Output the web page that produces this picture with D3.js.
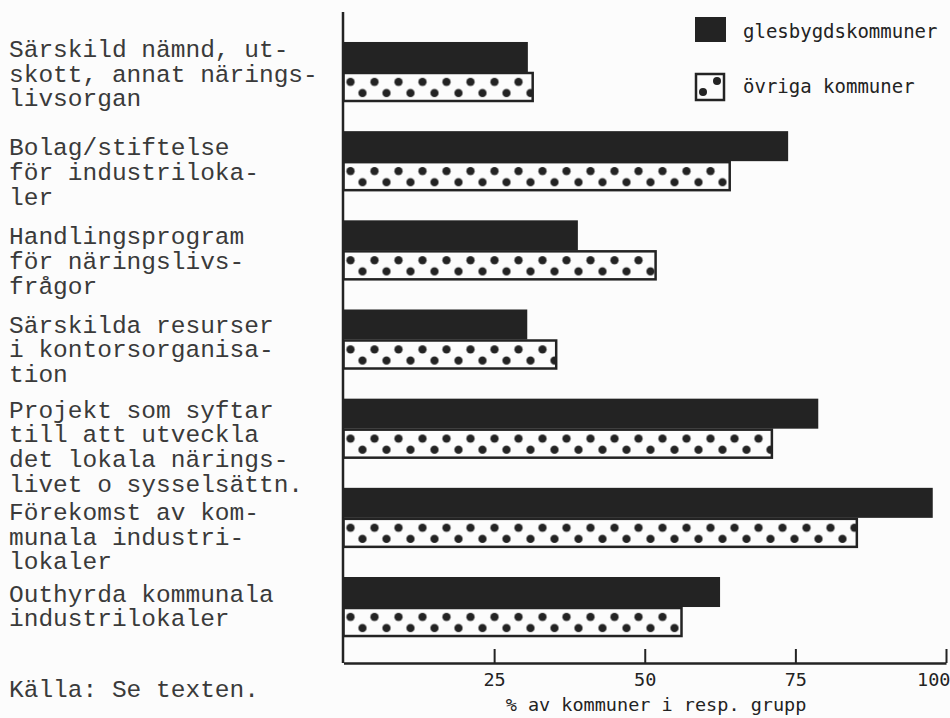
<!DOCTYPE html>
<html>
<head>
<meta charset="utf-8">
<script src="https://cdn.jsdelivr.net/npm/d3@7"></script>
<style>
  html, body { margin: 0; padding: 0; background: #fcfcfc; }
  svg { display: block; }
</style>
</head>
<body>
<svg id="chart" width="950" height="718"></svg>
<script>
// ---- data ----
const categories = [
  "Särskild nämnd, ut-\nskott, annat närings-\nlivsorgan",
  "Bolag/stiftelse\nför industriloka-\nler",
  "Handlingsprogram\nför näringslivs-\nfrågor",
  "Särskilda resurser\ni kontorsorganisa-\ntion",
  "Projekt som syftar\ntill att utveckla\ndet lokala närings-\nlivet o sysselsättn.",
  "Förekomst av kom-\nmunala industri-\nlokaler",
  "Outhyrda kommunala\nindustrilokaler"
];
const seriesNames = ["glesbygdskommuner", "övriga kommuner"];
const glesbygd = [30.6, 73.8, 38.9, 30.5, 78.8, 97.8, 62.5];
const ovriga   = [31.6, 64.3, 52.0, 35.5, 71.3, 85.4, 56.3];
const xTicks = [25, 50, 75, 100];
const axisTitle = "% av kommuner i resp. grupp";
const sourceNote = "Källa: Se texten.";

// ---- layout ----
const svg = d3.select("#chart");
const INK = "#232323";
const TYPE = "'Courier New', Courier, 'Nimbus Mono PS', 'Nimbus Mono L', FreeMono, 'Liberation Mono', monospace";
const SANS = "'DejaVu Sans Mono', monospace";
const labelNudge = [2.7, 11.7, 11.7, 10.7, 19, 19.7, 0];
const lineH = 24.7;
const axisY = 663;

const x = d3.scaleLinear().domain([0, 100]).range([343.5, 946]);
const y = d3.scaleBand().domain(categories).range([27.4, 651.6])
  .paddingInner(0.327).paddingOuter(0.1635);
const ySub = d3.scaleBand().domain(seriesNames).range([0, y.bandwidth()]);

const rows = categories.map((c, i) => ({cat: c, i, vals: [glesbygd[i], ovriga[i]]}));

// patterns for dotted bars
const defs = svg.append("defs");
rows.forEach(r => {
  const p = defs.append("pattern")
    .attr("id", "dots" + r.i)
    .attr("patternUnits", "userSpaceOnUse")
    .attr("x", x(0))
    .attr("y", y(r.cat) + ySub(seriesNames[1]))
    .attr("width", 24)
    .attr("height", ySub.bandwidth());
  p.append("rect").attr("width", 24).attr("height", ySub.bandwidth()).attr("fill", "#fcfcfc");
  p.append("circle").attr("cx", 7).attr("cy", 10).attr("r", 4.1).attr("fill", INK);
  p.append("circle").attr("cx", 19).attr("cy", 21).attr("r", 4.1).attr("fill", INK);
});

// bars
const g = svg.append("g");
rows.forEach(r => {
  g.append("rect")
    .attr("x", x(0))
    .attr("y", y(r.cat) + ySub(seriesNames[0]))
    .attr("width", x(r.vals[0]) - x(0))
    .attr("height", ySub.bandwidth())
    .attr("fill", INK);
  g.append("rect")
    .attr("x", x(0))
    .attr("y", y(r.cat) + ySub(seriesNames[1]) + 1)
    .attr("width", x(r.vals[1]) - x(0) - 1.2)
    .attr("height", ySub.bandwidth() - 2)
    .attr("fill", "url(#dots" + r.i + ")")
    .attr("stroke", INK)
    .attr("stroke-width", 2.5);
});

// y axis line
svg.append("line")
  .attr("x1", x(0) - 0.5).attr("x2", x(0) - 0.5)
  .attr("y1", 12).attr("y2", axisY)
  .attr("stroke", INK).attr("stroke-width", 2.5);

// x axis
const xAxis = d3.axisBottom(x).tickValues(xTicks).tickSizeInner(-14).tickSizeOuter(0).tickPadding(23);
const ax = svg.append("g").attr("transform", `translate(0,${axisY})`).call(xAxis);
ax.select(".domain").attr("stroke", INK).attr("stroke-width", 2.5);
ax.selectAll(".tick line").attr("stroke", INK).attr("stroke-width", 2);
ax.selectAll(".tick text")
  .attr("fill", INK)
  .attr("font-family", SANS)
  .attr("font-size", 18.5)
  .attr("dy", 0)
  .attr("text-anchor", d => d === 100 ? "end" : "middle")
  .attr("dx", d => d === 100 ? 4 : 0);

// axis title
svg.append("text")
  .attr("x", 656).attr("y", 711)
  .attr("text-anchor", "middle")
  .attr("font-family", SANS)
  .attr("font-size", 18.5)
  .attr("fill", INK)
  .text(axisTitle);

// category labels
rows.forEach((r, i) => {
  const lines = r.cat.split("\n");
  const first = y(r.cat) + y.bandwidth() / 2 - (lines.length - 1) * lineH / 2 + 7 + labelNudge[i];
  const t = svg.append("text")
    .attr("font-family", TYPE)
    .attr("font-size", 24.5)
    .attr("fill", "#3a3a3a");
  lines.forEach((ln, k) => {
    t.append("tspan").attr("x", 9).attr("y", first + k * lineH).text(ln);
  });
});

// source note
svg.append("text")
  .attr("x", 9).attr("y", 697)
  .attr("font-family", TYPE)
  .attr("font-size", 24.5)
  .attr("fill", "#3a3a3a")
  .text(sourceNote);

// legend
const lg = svg.append("g");
lg.append("rect").attr("x", 695).attr("y", 17).attr("width", 31).attr("height", 25).attr("fill", INK);
lg.append("rect").attr("x", 696).attr("y", 74).attr("width", 28).attr("height", 26)
  .attr("fill", "#fcfcfc").attr("stroke", INK).attr("stroke-width", 2.5);
lg.append("circle").attr("cx", 717).attr("cy", 81).attr("r", 4).attr("fill", INK);
lg.append("circle").attr("cx", 703).attr("cy", 92).attr("r", 4).attr("fill", INK);
lg.selectAll("text.leg").data(seriesNames).enter().append("text")
  .attr("x", 743)
  .attr("y", (d, i) => i === 0 ? 38 : 93)
  .attr("font-family", SANS)
  .attr("font-size", 19)
  .attr("fill", INK)
  .text(d => d);
</script>
</body>
</html>
